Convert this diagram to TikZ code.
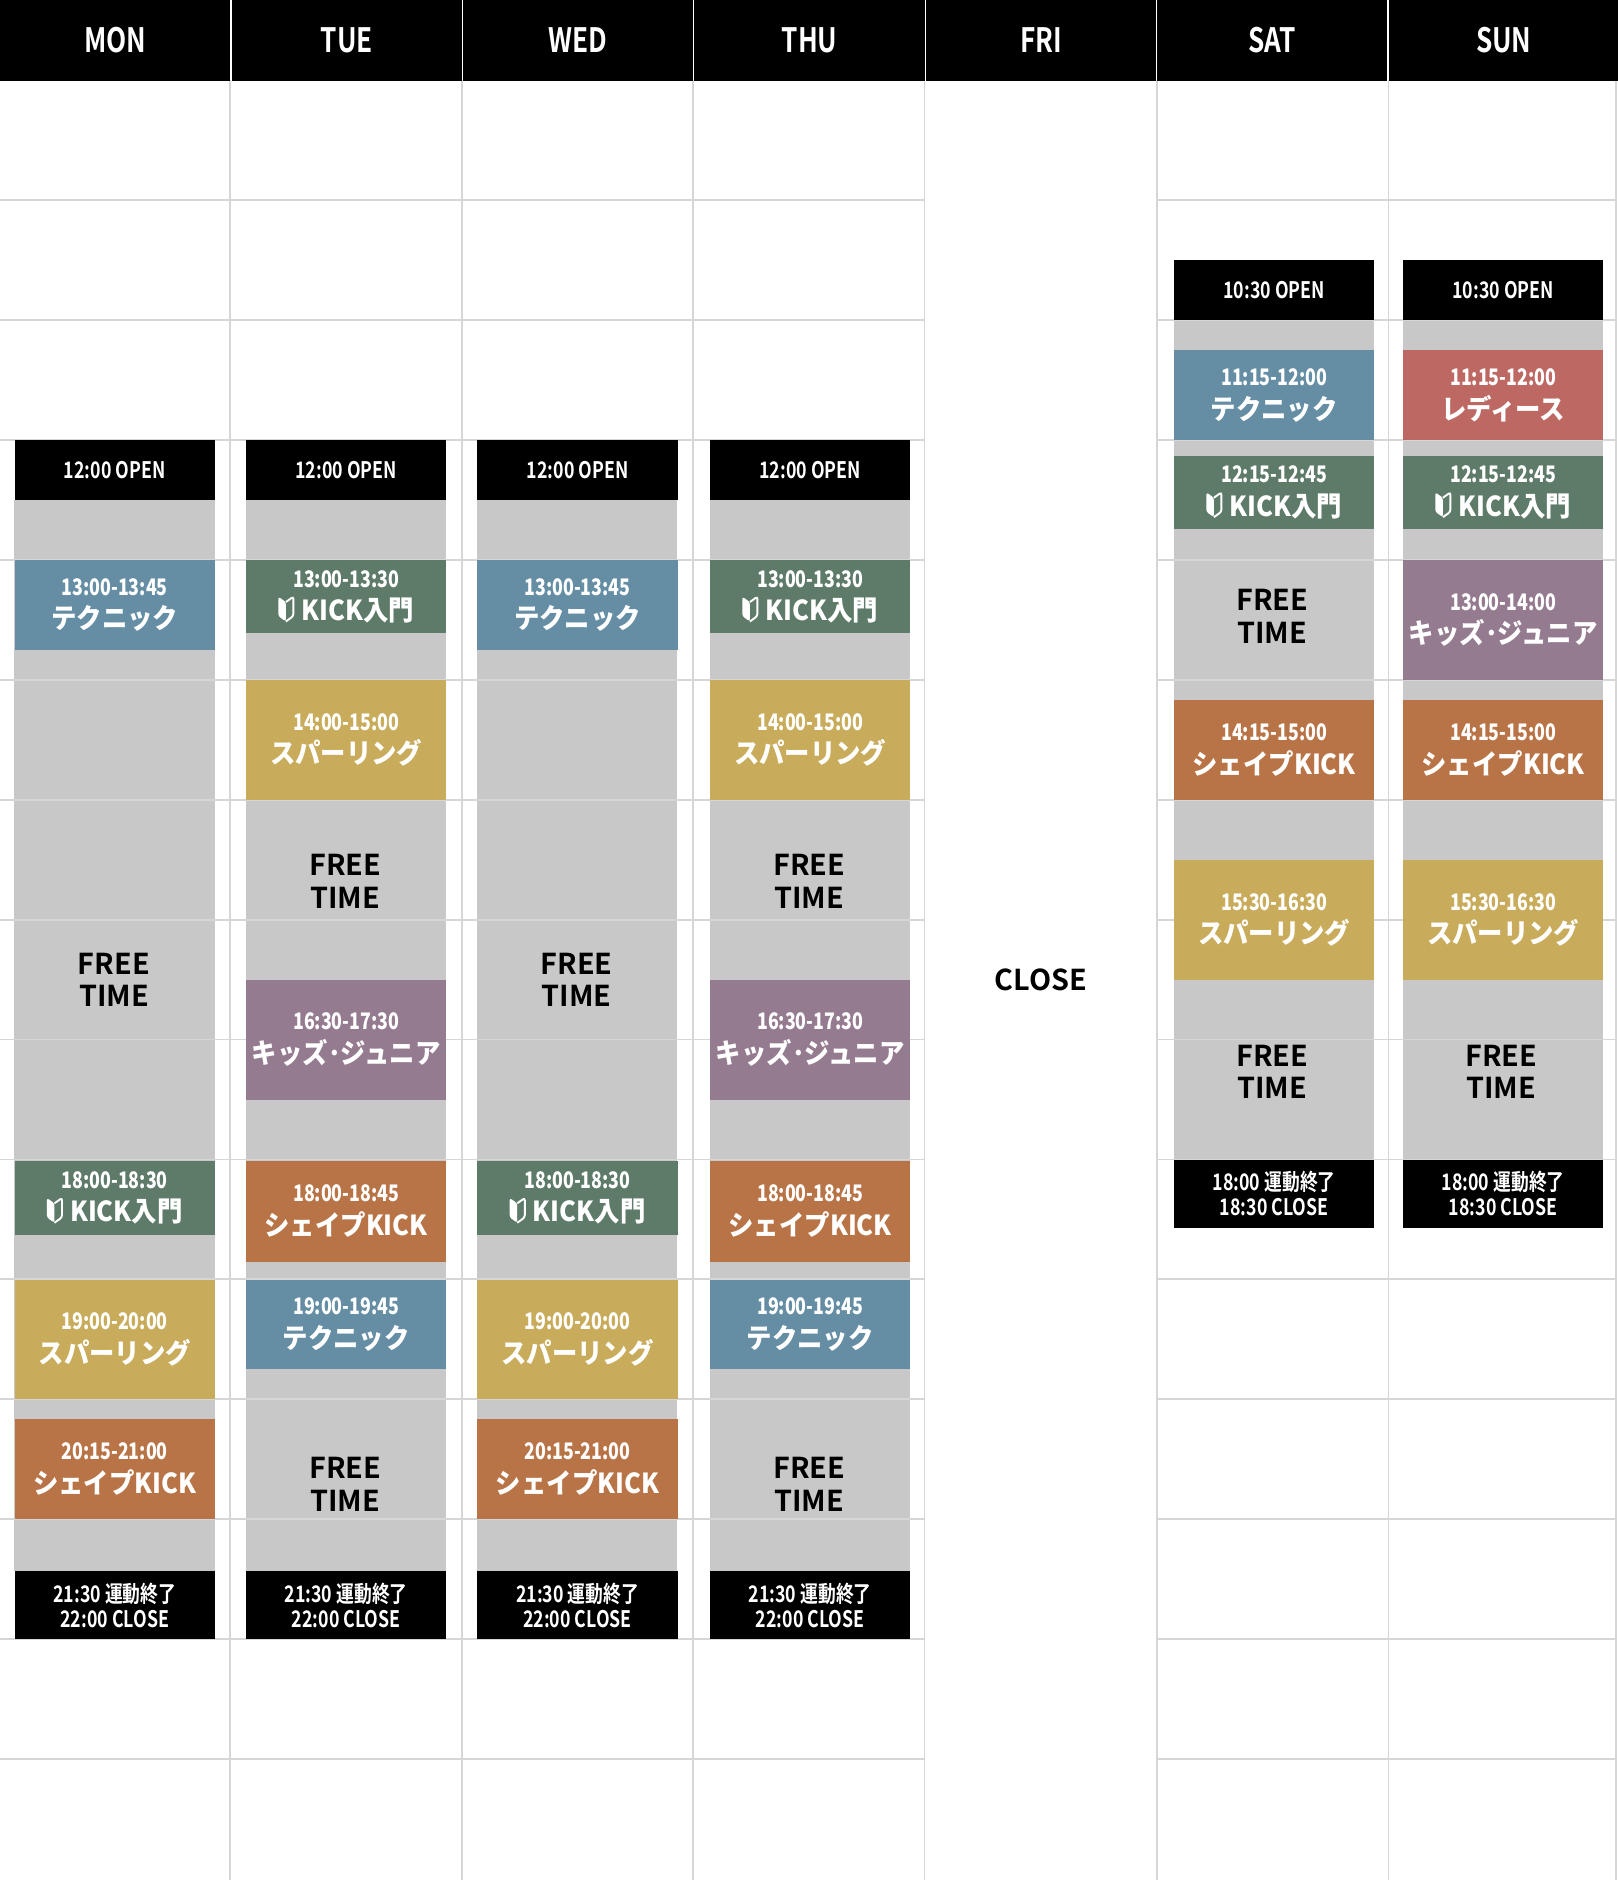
\documentclass[tikz,border=0pt]{standalone}
\usepackage{fontspec}
\setmainfont{Noto Sans CJK JP}[BoldFont={Noto Sans CJK JP Bold}]
\newfontfamily\cond[FakeStretch=0.78]{Noto Sans CJK JP Bold}
\newfontfamily\namefont[FakeStretch=0.92]{Noto Sans CJK JP Bold}
\definecolor{cblue}{HTML}{658EA4}
\definecolor{cgreen}{HTML}{5E7B6A}
\definecolor{cyellow}{HTML}{C8AC5C}
\definecolor{corange}{HTML}{B87446}
\definecolor{cpurple}{HTML}{957B90}
\definecolor{cred}{HTML}{BD6862}
\definecolor{cgray}{HTML}{C8C8C8}
\definecolor{cline}{HTML}{D6D6D6}
\tikzset{
  slot/.style={anchor=north west, inner sep=0pt, minimum width=167pt, text=white, align=center, font=\bfseries\fontsize{23}{27}\selectfont},
  dayhead/.style={anchor=north west, fill=black, text=white, inner sep=0pt, minimum width=192pt, minimum height=67pt, font=\cond\fontsize{28}{30}\selectfont},
  freetext/.style={align=center, font=\bfseries\fontsize{24}{27}\selectfont},
}
% time + name inside a block
\newcommand\tm[1]{{\cond\fontsize{19}{22}\selectfont #1}}
\newcommand\nm[1]{{\namefont\fontsize{23}{27}\selectfont #1}}
\newcommand\wakaba{\tikz[baseline=-20pt,x=0.9pt,y=0.9pt]{\fill[white,rounded corners=2pt] (0,0)--(0,-18)--(7,-23)--(7,-5)--cycle;
  \draw[white,line width=1.6pt,rounded corners=2pt] (7,-5)--(14,0)--(14,-18)--(7,-23);}\hspace{6pt}}
% \lesson{name}{x}{ytop}{ybot}{colour}{time}{label}
\newcommand\lesson[7]{\node[slot, fill=#5, minimum height=#4pt-#3pt] (#1) at (#2+12,#3) {\tm{#6}\\[1pt]\nm{#7}};}
\newcommand\openbox[4]{\node[slot, fill=black, minimum height=50pt, font=\cond\fontsize{19}{22}\selectfont] (#1) at (#2+12,#3) {#4};}
\newcommand\closebox[5]{\node[slot, fill=black, minimum height=57pt, font=\cond\fontsize{19}{21}\selectfont] (#1) at (#2+12,#3) {#4\\#5};}
\begin{document}
\begin{tikzpicture}[x=1pt,y=-1pt]
\useasboundingbox (0,0) rectangle (1349,1568);
\fill[white] (0,0) rectangle (1349,1568);
% grey opening hours
\foreach \x in {0,193,386,580} \fill[cgray] (\x+12,417) rectangle (\x+179,1310);
\foreach \x in {967,1158} \fill[cgray] (\x+12,267) rectangle (\x+179,967);
% grid
\foreach \y in {167,267,...,1467} {
  \draw[cline,line width=1.5pt] (0,\y) -- (771,\y);
  \draw[cline,line width=1.5pt] (965,\y) -- (1349,\y);
}
\foreach \x in {192,385,578,771,965,1158,1348} \draw[cline,line width=1.5pt] (\x,67) -- (\x,1568);
% header
\foreach \d [count=\i from 0] in {MON,TUE,WED,THU,FRI,SAT,SUN}
  \node[dayhead] (h\d) at (\i*193,0) {\d};
% MON
\openbox{monopen}{0}{367}{12:00 OPEN}
\lesson{mona}{0}{467}{542}{cblue}{13:00-13:45}{テクニック}
\node[freetext] (monfree) at (95,817) {FREE\\TIME};
\lesson{monb}{0}{968}{1030}{cgreen}{18:00-18:30}{\wakaba KICK入門}
\lesson{monc}{0}{1067}{1167}{cyellow}{19:00-20:00}{スパーリング}
\lesson{mond}{0}{1183}{1267}{corange}{20:15-21:00}{シェイプKICK}
\closebox{monclose}{0}{1310}{21:30 運動終了}{22:00 CLOSE}
% TUE
\openbox{tueopen}{193}{367}{12:00 OPEN}
\lesson{tuea}{193}{467}{528}{cgreen}{13:00-13:30}{\wakaba KICK入門}
\lesson{tueb}{193}{567}{667}{cyellow}{14:00-15:00}{スパーリング}
\node[freetext] (tuefree) at (288,735) {FREE\\TIME};
\lesson{tuec}{193}{817}{917}{cpurple}{16:30-17:30}{キッズ･ジュニア}
\lesson{tued}{193}{968}{1052}{corange}{18:00-18:45}{シェイプKICK}
\lesson{tuee}{193}{1067}{1142}{cblue}{19:00-19:45}{テクニック}
\node[freetext] (tuefreeb) at (288,1238) {FREE\\TIME};
\closebox{tueclose}{193}{1310}{21:30 運動終了}{22:00 CLOSE}
% WED
\openbox{wedopen}{386}{367}{12:00 OPEN}
\lesson{weda}{386}{467}{542}{cblue}{13:00-13:45}{テクニック}
\node[freetext] (wedfree) at (481,817) {FREE\\TIME};
\lesson{wedb}{386}{968}{1030}{cgreen}{18:00-18:30}{\wakaba KICK入門}
\lesson{wedc}{386}{1067}{1167}{cyellow}{19:00-20:00}{スパーリング}
\lesson{wedd}{386}{1183}{1267}{corange}{20:15-21:00}{シェイプKICK}
\closebox{wedclose}{386}{1310}{21:30 運動終了}{22:00 CLOSE}
% THU
\openbox{thuopen}{580}{367}{12:00 OPEN}
\lesson{thua}{580}{467}{528}{cgreen}{13:00-13:30}{\wakaba KICK入門}
\lesson{thub}{580}{567}{667}{cyellow}{14:00-15:00}{スパーリング}
\node[freetext] (thufree) at (675,735) {FREE\\TIME};
\lesson{thuc}{580}{817}{917}{cpurple}{16:30-17:30}{キッズ･ジュニア}
\lesson{thud}{580}{968}{1052}{corange}{18:00-18:45}{シェイプKICK}
\lesson{thue}{580}{1067}{1142}{cblue}{19:00-19:45}{テクニック}
\node[freetext] (thufreeb) at (675,1238) {FREE\\TIME};
\closebox{thuclose}{580}{1310}{21:30 運動終了}{22:00 CLOSE}
% FRI
\node[font=\bfseries\fontsize{24}{27}\selectfont] (friclose) at (868,817) {CLOSE};
% SAT
\openbox{satopen}{967}{217}{10:30 OPEN}
\lesson{sata}{967}{292}{367}{cblue}{11:15-12:00}{テクニック}
\lesson{satb}{967}{380}{441}{cgreen}{12:15-12:45}{\wakaba KICK入門}
\node[freetext] (satfree) at (1061,514) {FREE\\TIME};
\lesson{satc}{967}{584}{667}{corange}{14:15-15:00}{シェイプKICK}
\lesson{satd}{967}{717}{817}{cyellow}{15:30-16:30}{スパーリング}
\node[freetext] (satfreeb) at (1061,894) {FREE\\TIME};
\closebox{satclose}{967}{967}{18:00 運動終了}{18:30 CLOSE}
% SUN
\openbox{sunopen}{1158}{217}{10:30 OPEN}
\lesson{suna}{1158}{292}{367}{cred}{11:15-12:00}{レディース}
\lesson{sunb}{1158}{380}{441}{cgreen}{12:15-12:45}{\wakaba KICK入門}
\lesson{sunc}{1158}{467}{567}{cpurple}{13:00-14:00}{キッズ･ジュニア}
\lesson{sund}{1158}{584}{667}{corange}{14:15-15:00}{シェイプKICK}
\lesson{sune}{1158}{717}{817}{cyellow}{15:30-16:30}{スパーリング}
\node[freetext] (sunfree) at (1252,894) {FREE\\TIME};
\closebox{sunclose}{1158}{967}{18:00 運動終了}{18:30 CLOSE}
\end{tikzpicture}
\end{document}
